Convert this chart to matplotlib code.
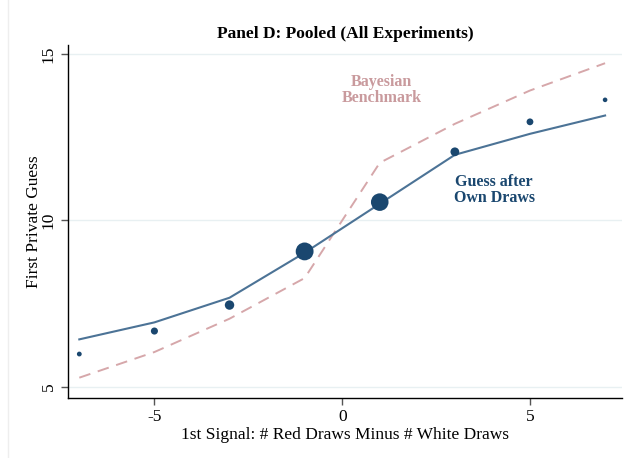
#!/usr/bin/env python

import numpy as np
import matplotlib
matplotlib.use('Agg')
import matplotlib.pyplot as plt

# signal bins (# red draws minus # white draws)
signal = [-7, -5, -3, -1, 1, 3, 5, 7]

# mean first private guess per bin, and fitted line
guess_mean = [5.99, 6.68, 7.46, 9.07, 10.55, 12.06, 12.96, 13.62]
guess_fit = [6.43, 6.94, 7.68, 9.03, 10.50, 11.97, 12.60, 13.15]

# bayesian benchmark
bayes = [5.28, 6.05, 7.05, 8.27, 11.73, 12.90, 13.90, 14.72]

# relative number of observations per bin (marker area)
bin_weight = [12, 26, 46, 165, 160, 40, 24, 11]

navy = '#1a476f'
fitcol = '#4c7396'
pink = '#d6a7aa'
pinktxt = '#c99a9d'

plt.rcParams['font.family'] = ['Liberation Serif', 'DejaVu Serif']
plt.rcParams['axes.unicode_minus'] = False

fig = plt.figure(figsize=(6.27, 4.58), dpi=100)
ax = fig.add_axes([0.1085, 0.131, 0.8835, 0.771])

for yv in [5, 10, 15]:
  ax.axhline(yv, color='#e8f0f2', lw=1.0, zorder=0)

ax.plot(signal, bayes, color=pink, lw=1.4, dashes=(6, 4), zorder=2)
ax.plot(signal, guess_fit, color=fitcol, lw=1.5, zorder=3)
ax.scatter(signal, guess_mean, s=bin_weight, color=navy, zorder=4, linewidths=0)

ax.text(1.05, 13.93, 'Bayesian\nBenchmark', color=pinktxt, fontsize=11.5,
  fontweight='bold', ha='center', va='center', linespacing=1.0)
ax.text(4.05, 10.90, 'Guess after\nOwn Draws', color=navy, fontsize=11.5,
  fontweight='bold', ha='center', va='center', linespacing=1.0)

ax.set_xlim(-7.3, 7.45)
ax.set_ylim(4.67, 15.27)
ax.set_xticks([-5, 0, 5])
ax.set_yticks([5, 10, 15])
ax.set_yticklabels(['5', '10', '15'], rotation=90, va='center')
ax.tick_params(axis='both', labelsize=12.5, length=5, width=1, color='#555555', pad=3)

for s in ['top', 'right']:
  ax.spines[s].set_visible(False)
for s in ['left', 'bottom']:
  ax.spines[s].set_color('black')
  ax.spines[s].set_linewidth(1.0)

ax.set_xlabel('1st Signal: # Red Draws Minus # White Draws', fontsize=12.5, labelpad=1)
ax.set_ylabel('First Private Guess', fontsize=12.5, labelpad=-1)
ax.set_title('Panel D: Pooled (All Experiments)', fontsize=12.5, fontweight='bold', pad=5)

# faint outer frame edge on the left
fig.add_artist(plt.Line2D([0.013, 0.013], [0.0, 1.0], color='#eeeeee', lw=1.0))

fig.savefig('out.png', dpi=100, facecolor='white')
